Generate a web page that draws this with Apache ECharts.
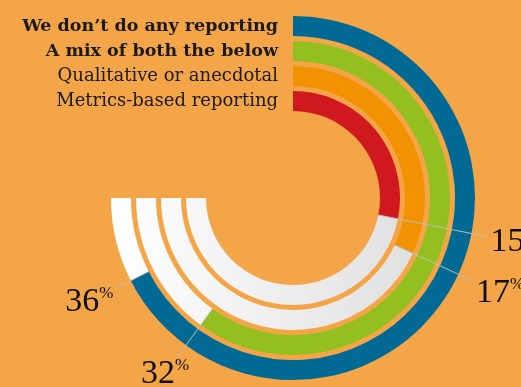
<!DOCTYPE html>
<html><head><meta charset="utf-8">
<script src="https://cdn.jsdelivr.net/npm/echarts@6/dist/echarts.min.js"></script>
<style>html,body{margin:0;padding:0;background:#f4a548}#c{width:521px;height:387px}</style>
</head><body><div id="c"></div>
<script>
// inner ring -> outer ring
var categories = ['Metrics-based reporting', 'Qualitative or anecdotal', 'A mix of both the below', 'We don’t do any reporting'];
var values = [15, 17, 32, 36];
var colors = ['#d0191f', '#f39200', '#93c01f', '#006a94'];
var trackMax = 40; // value at the end of the 270° track

var chart = echarts.init(document.getElementById('c'));
var serif = 'Liberation Serif';
var legendFont = 'DejaVu Serif';
var trackGradient = new echarts.graphic.LinearGradient(110, 0, 480, 0,
  [{ offset: 0, color: '#ffffff' }, { offset: 1, color: '#dadada' }], true);
chart.setOption({
  backgroundColor: '#f4a548',
  animation: false,
  polar: { center: [293, 198], radius: [84.5, 184.5] },
  angleAxis: {
    type: 'value', min: 0, max: trackMax * 360 / 270, startAngle: 90, clockwise: true,
    show: false, splitLine: { show: false }, axisLine: { show: false }
  },
  radiusAxis: {
    type: 'category', data: categories,
    axisLine: { show: false }, axisTick: { show: false }, splitLine: { show: false },
    axisLabel: {
      show: true, interval: 0, margin: 15, color: '#1a1a1a', hideOverlap: false,
      formatter: function (v, i) { return (i >= 2 ? '{b|' : '{r|') + v + '}'; },
      rich: {
        b: { fontFamily: legendFont, fontSize: 17.5, fontWeight: 'bold', color: '#1a1a1a' },
        r: { fontFamily: legendFont, fontSize: 18, color: '#1a1a1a' }
      }
    }
  },
  series: [
    {
      type: 'bar', coordinateSystem: 'polar', barWidth: 20, stack: 'ring', z: 2,
      data: values.map(function (v, i) { return { value: v, itemStyle: { color: colors[i] } }; })
    },
    {
      type: 'bar', coordinateSystem: 'polar', barWidth: 20, stack: 'ring', z: 1, silent: true,
      data: values.map(function (v) { return trackMax - v; }),
      itemStyle: { color: trackGradient }
    },
    {
      type: 'custom', coordinateSystem: 'polar', z: 5,
      data: values.map(function (v, i) { return [i, v]; }),
      encode: { radius: 0, angle: 1 },
      renderItem: function (params, api) {
        var cs = params.coordSys;
        var p = api.coord([api.value(0), api.value(1)]);
        var dx = p[0] - cs.cx, dy = p[1] - cs.cy;
        var rm = Math.sqrt(dx * dx + dy * dy);
        var ux = dx / rm, uy = dy / rm;
        var r1 = rm - 10, r2 = cs.r + 12;
        var hw = 25, hh = 14, gap = 4;
        var ext = Math.min(hw / Math.max(Math.abs(ux), 1e-6), hh / Math.max(Math.abs(uy), 1e-6)) + gap;
        var ex = cs.cx + ux * r2, ey = cs.cy + uy * r2;
        return {
          type: 'group',
          children: [
            { type: 'line', shape: { x1: cs.cx + ux * r1, y1: cs.cy + uy * r1, x2: ex, y2: ey },
              style: { stroke: '#bdbdbd', lineWidth: 1 } },
            { type: 'text', x: ex + ux * ext, y: ey + uy * ext,
              style: {
                text: '{n|' + api.value(1) + '}{p|%}', align: 'center', verticalAlign: 'middle',
                rich: {
                  n: { fontFamily: serif, fontSize: 34, fill: '#0d0d0d' },
                  p: { fontFamily: serif, fontSize: 17, fill: '#0d0d0d', verticalAlign: 'top', padding: [0, 0, 13, 0] }
                }
              } }
          ]
        };
      }
    }
  ]
});
</script></body></html>
